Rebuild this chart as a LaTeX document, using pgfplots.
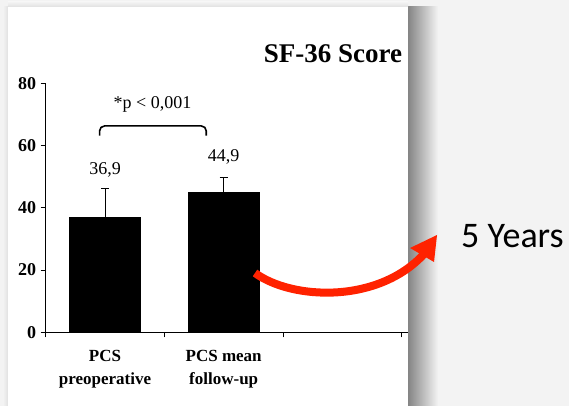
\documentclass[border=0pt]{standalone}
\usepackage{fontspec}
\setmainfont{Liberation Serif}
\newfontfamily\calibri{Carlito}
\usepackage{pgfplots}
\pgfplotsset{compat=1.18}
\definecolor{bg}{HTML}{F3F3F3}
\definecolor{arrowred}{HTML}{FF2200}
\begin{document}
\begin{tikzpicture}[x=1pt,y=1pt]
\useasboundingbox (0,0) rectangle (569,406);
\fill[bg] (0,0) rectangle (569,406);
\shade[left color=black!48, right color=bg] (408,0) rectangle (438,399);
\shade[bottom color=black!12, top color=bg] (8,399) rectangle (408,404);
\shade[right color=black!12, left color=bg] (3,0) rectangle (8,399);
\fill[white] (8,0) rectangle (408,399);
\draw[line width=0.9pt] (401.7,73.7) -- (408,73.7);
\begin{axis}[
  at={(45.7pt,73.7pt)}, anchor=south west,
  scale only axis, width=356pt, height=249pt,
  xmin=-0.5, xmax=2.5, ymin=0, ymax=80,
  axis x line=bottom, axis y line=left,
  axis line style={-, line width=0.9pt},
  tick align=outside, major tick length=5pt,
  tick style={black, line width=0.9pt},
  ytick={0,20,40,60,80},
  /pgf/number format/assume math mode=true,
  yticklabel style={font=\fontsize{18}{18}\selectfont\bfseries, xshift=-1pt},
  xtick={-0.5,0.5,1.5,2.5}, xticklabels={},
  extra x ticks={0,1},
  extra x tick labels={PCS\\preoperative, PCS mean\\follow-up},
  extra x tick style={major tick length=0pt,
    xticklabel style={align=center, font=\fontsize{17}{23}\selectfont\bfseries, yshift=-14pt}},
  clip=false,
]
\addplot[ybar, bar width=0.6, fill=black, draw=black,
  error bars/.cd, y dir=plus, y explicit,
  error bar style={black, line width=0.9pt},
  error mark options={rotate=90, mark size=4pt, black, line width=0.9pt}]
  coordinates {(0,36.9) +- (0,9.2) (1,44.9) +- (0,4.8)};
\node[font=\fontsize{18}{18}\selectfont] at (axis cs:0,52.2) {36,9};
\node[font=\fontsize{18}{18}\selectfont] at (axis cs:1,56.4) {44,9};
\node[font=\fontsize{18}{18}\selectfont] at (axis cs:0.40,73.3) {*p < 0,001};
\draw[line width=1.6pt, rounded corners=5pt] (axis cs:-0.046,63.2) -- (axis cs:-0.046,66.3) -- (axis cs:0.853,66.3) -- (axis cs:0.853,63.2);
\end{axis}
\node[font=\fontsize{27}{27}\selectfont\bfseries] at (333,352) {SF-36 Score};
\draw[arrowred, line width=8pt] (255,133) .. controls (292,106) and (378,102) .. (424,152);
\fill[arrowred] (437,171) -- (410,158) -- (434,144) -- cycle;
\node[anchor=base west, inner sep=0pt, font=\calibri\fontsize{36}{36}\selectfont] at (461,158) {5 Years};
\end{tikzpicture}
\end{document}
